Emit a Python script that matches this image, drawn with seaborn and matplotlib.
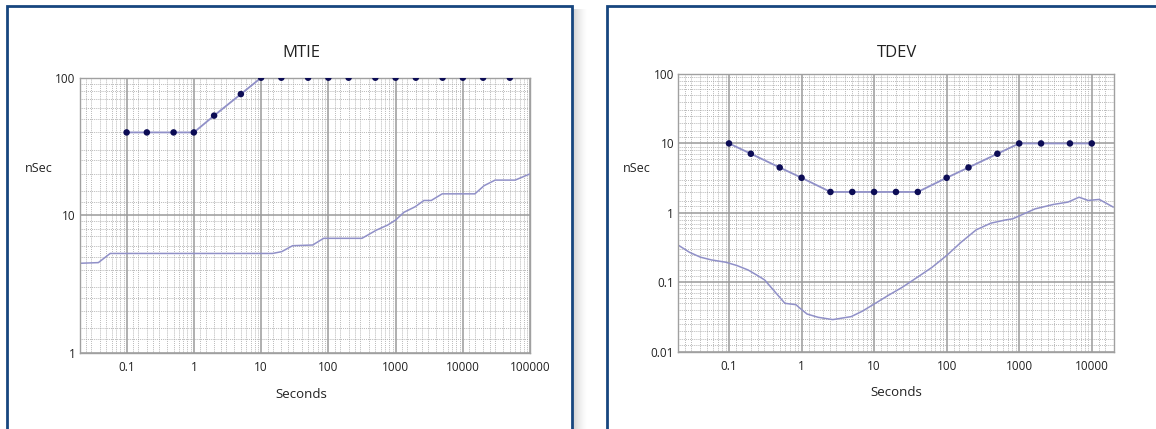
import numpy as np
import matplotlib
matplotlib.use("Agg")
import matplotlib.pyplot as plt
import matplotlib.ticker as mticker
from matplotlib.patches import Rectangle
import seaborn as sns

# MTIE mask (points) and measured curve
mtie_mask_tau = [0.1, 0.2, 0.5, 1, 2, 5, 10, 20, 50, 100, 200, 500, 1000, 2000, 5000, 10000, 20000, 50000]
mtie_mask_ns = [40, 40, 40, 40, 53, 76, 100, 100, 100, 100, 100, 100, 100, 100, 100, 100, 100, 100]
mtie_mask_end_tau = 100000
mtie_mask_end_ns = 100
mtie_tau = [0.02, 0.038, 0.057, 14.8, 20.2, 29.4, 58.5, 85, 316, 521, 759, 1000, 1330, 1940,
            2640, 3390, 4930, 15100, 20700, 30200, 60000, 100000]
mtie_ns = [4.47, 4.52, 5.27, 5.27, 5.43, 6.0, 6.07, 6.79, 6.79, 7.8, 8.47, 9.22, 10.5, 11.5,
           12.8, 12.8, 14.3, 14.3, 16.4, 18.0, 18.0, 20.0]

# TDEV mask (points) and measured curve
tdev_mask_tau = [0.1, 0.2, 0.5, 1, 2.5, 5, 10, 20, 40, 100, 200, 500, 1000, 2000, 5000, 10000]
tdev_mask_ns = [10, 7.1, 4.5, 3.2, 2, 2, 2, 2, 2, 3.2, 4.5, 7.1, 10, 10, 10, 10]
tdev_tau = [0.0204, 0.0284, 0.0403, 0.0571, 0.0912, 0.129, 0.184, 0.261, 0.31, 0.415, 0.589,
            0.836, 0.94, 1.19, 1.69, 2.69, 4.82, 6.84, 9.7, 15.5, 24.5, 39.4, 62.8, 100, 158,
            255, 406, 646, 813, 1030, 1650, 2950, 4710, 6680, 8910, 12700, 19800]
tdev_ns = [0.338, 0.271, 0.23, 0.21, 0.194, 0.174, 0.15, 0.121, 0.108, 0.076, 0.0498, 0.0476,
           0.0427, 0.0349, 0.0313, 0.029, 0.032, 0.0382, 0.0476, 0.0643, 0.0848, 0.118, 0.164,
           0.243, 0.377, 0.569, 0.71, 0.79, 0.82, 0.916, 1.14, 1.32, 1.43, 1.68, 1.51, 1.56, 1.21]

mtie_xticks = [0.1, 1, 10, 100, 1000, 10000, 100000]
mtie_yticks = [1, 10, 100]
tdev_xticks = [0.1, 1, 10, 100, 1000, 10000]
tdev_yticks = [0.01, 0.1, 1, 10, 100]

sns.set_style("white")
plt.rcParams["font.family"] = ["Open Sans", "DejaVu Sans"]

line_col = "#9090c8"
dot_col = "#0c0c55"
border_col = "#17467f"

fig = plt.figure(figsize=(11.56, 4.29), dpi=100)
W, H = 1156, 429

# panel frames (cut off at the bottom) and the shadow between them
fig.add_artist(Rectangle((7 / W, -0.05), (572 - 7) / W, 1 - 6 / H + 0.05, transform=fig.transFigure,
                         facecolor="none", edgecolor=border_col, lw=2, zorder=5))
fig.add_artist(Rectangle((607 / W, -0.05), (1170 - 607) / W, 1 - 6 / H + 0.05, transform=fig.transFigure,
                         facecolor="none", edgecolor=border_col, lw=2, zorder=5))
for i in range(14):
    fig.add_artist(Rectangle(((573 + i) / W, -0.05), 1 / W, 1 - 9 / H + 0.05, transform=fig.transFigure,
                             facecolor="#808080", edgecolor="none", alpha=0.35 * (1 - i / 14) ** 1.5, zorder=1))


def style_axes(ax, xlim, ylim, xticks, yticks):
    ax.set_xscale("log")
    ax.set_yscale("log")
    ax.set_xlim(*xlim)
    ax.set_ylim(*ylim)
    subs = [1.25, 1.5, 2, 2.5, 3, 4, 5, 6, 7, 8, 9]
    for axis in (ax.xaxis, ax.yaxis):
        axis.set_minor_locator(mticker.LogLocator(base=10, subs=subs, numticks=50))
        axis.set_minor_formatter(mticker.NullFormatter())
    ax.set_xticks(xticks)
    ax.set_xticklabels([f"{t:g}" if t < 1e5 else "100000" for t in xticks])
    ax.set_yticks(yticks)
    ax.set_yticklabels([f"{t:g}" for t in yticks])
    ax.grid(True, which="major", color="#9a9a9a", lw=1.1, ls="-")
    ax.grid(True, which="minor", color="#a4a4a4", lw=0.6, ls=(0, (1, 1.3)))
    ax.tick_params(which="both", length=0, labelsize=8.5, colors="#222222")
    ax.tick_params(axis="x", pad=6)
    ax.tick_params(axis="y", pad=3)
    for s in ax.spines.values():
        s.set_color("#a0a0a0")
        s.set_linewidth(1)
    ax.set_xlabel("")
    ax.set_ylabel("")


# MTIE
ax1 = fig.add_axes([79.6 / W, 1 - 352.7 / H, 450.5 / W, 275 / H])
ax1.set_xscale("log")
ax1.set_yscale("log")
sns.lineplot(x=mtie_tau, y=mtie_ns, ax=ax1, color=line_col, lw=1.1, estimator=None, sort=False)
sns.lineplot(x=mtie_mask_tau + [mtie_mask_end_tau], y=mtie_mask_ns + [mtie_mask_end_ns], ax=ax1,
             color=line_col, lw=1.3, estimator=None, sort=False)
sns.scatterplot(x=mtie_mask_tau, y=mtie_mask_ns, ax=ax1, color=dot_col, s=22, edgecolor="none", zorder=4)
style_axes(ax1, (0.02, 1e5), (1, 100), mtie_xticks, mtie_yticks)

# TDEV
ax2 = fig.add_axes([678.3 / W, 1 - 351.7 / H, 435.3 / W, 277.7 / H])
ax2.set_xscale("log")
ax2.set_yscale("log")
sns.lineplot(x=tdev_tau, y=tdev_ns, ax=ax2, color=line_col, lw=1.1, estimator=None, sort=False)
sns.lineplot(x=tdev_mask_tau, y=tdev_mask_ns, ax=ax2, color=line_col, lw=1.3, estimator=None, sort=False)
sns.scatterplot(x=tdev_mask_tau, y=tdev_mask_ns, ax=ax2, color=dot_col, s=22, edgecolor="none", zorder=4)
style_axes(ax2, (0.02, 2e4), (0.01, 100), tdev_xticks, tdev_yticks)

# titles and axis labels
fig.text(301.5 / W, 1 - 53 / H, "MTIE", ha="center", va="center", fontsize=12, color="#222222")
fig.text(897 / W, 1 - 53 / H, "TDEV", ha="center", va="center", fontsize=12, color="#222222")
fig.text(38.7 / W, 1 - 168 / H, "nSec", ha="center", va="center", fontsize=9, color="#222222")
fig.text(637 / W, 1 - 168 / H, "nSec", ha="center", va="center", fontsize=9, color="#222222")
fig.text(301 / W, 1 - 394 / H, "Seconds", ha="center", va="center", fontsize=9.5, color="#222222")
fig.text(896 / W, 1 - 393 / H, "Seconds", ha="center", va="center", fontsize=9.5, color="#222222")

fig.savefig("out.png", dpi=100, facecolor="white")
